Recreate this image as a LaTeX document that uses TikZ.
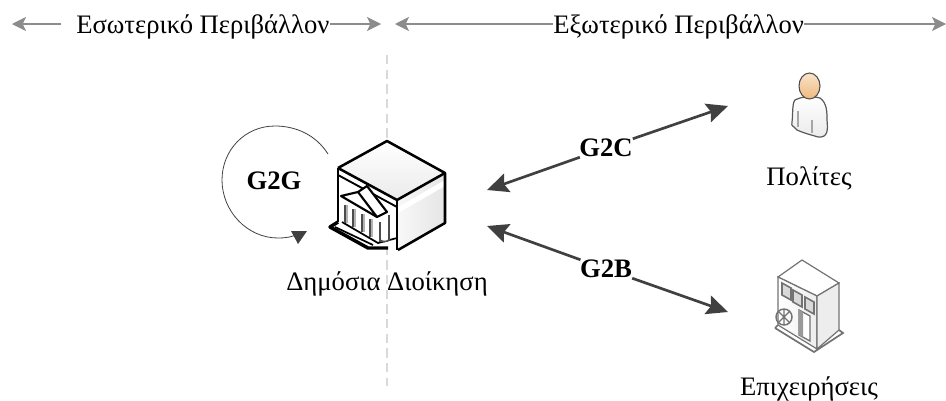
\documentclass[tikz,border=0pt]{standalone}
\usepackage{fontspec}
\setmainfont{Liberation Serif}
\usetikzlibrary{arrows.meta}
\definecolor{greyline}{RGB}{140,140,140}
\definecolor{darkline}{RGB}{64,64,64}
\definecolor{skin}{RGB}{240,185,125}
\tikzset{
  x=0.75pt,y=-0.75pt,
  lbl/.style={font=\fontsize{20}{24}\selectfont,inner sep=0pt,text=black},
  boldlbl/.style={font=\fontsize{20}{24}\selectfont\bfseries,inner sep=0pt,fill=white,text=black},
  spanline/.style={draw=greyline,line width=0.8pt,-{Stealth[length=10.5pt,width=10.5pt,inset=2.5pt,fill=greyline]}},
  linkline/.style={draw=darkline,line width=2pt,-{Stealth[length=16pt,width=14.5pt,inset=2.5pt,fill=darkline]}},
  ink/.style={draw=black,line width=1.9pt,line join=round},
}
\begin{document}
\begin{tikzpicture}
\useasboundingbox (0,0) rectangle (946,400);
% top range
\node[lbl,anchor=base west] (in) at (76,33) {Εσωτερικό Περιβάλλον};
\node[lbl,anchor=base west] (ex) at (553,33) {Εξωτερικό Περιβάλλον};
\coordinate (a0) at (61,24); \coordinate (a1) at (12,24); \coordinate (a2) at (381,24);
\coordinate (b1) at (395,24); \coordinate (b2) at (946,24);
\draw[spanline] (a0) -- (a1);
\draw[spanline] (in.east |- a2) -- (a2);
\draw[spanline] (ex.west |- b1) -- (b1);
\draw[spanline] (ex.east |- b2) -- (b2);
% divider
\coordinate (d1) at (387,55); \coordinate (d2) at (387,386);
\draw[draw=black!15,line width=1.2pt,dash pattern=on 7pt off 4pt] (d1) -- (d2);
% G2G loop
\node[font=\fontsize{20}{24}\selectfont\bfseries,inner sep=0pt] (g2g) at (274,181) {G2G};
\draw[draw=darkline,line width=0.6pt] (328,154) .. controls (316,135) and (296,126) .. (275,126)
  .. controls (245,126) and (222,150) .. (222,180)
  .. controls (222,211) and (247,238) .. (278,238)
  .. controls (286,238) and (292,237) .. (298,234);
\fill[darkline] (291,231) -- (307,231) -- (298,244) -- cycle;
% public administration building
\begin{scope}
\fill[white] (387,140) -- (446,172) -- (446,222) -- (398,250) -- (330,227) -- (338,168) -- cycle;
\shade[left color=black!3,right color=black!10] (398,200) -- (445,174) -- (445,222) -- (398,249) -- cycle;
\fill[white] (398,207) -- (445,180) -- (445,186) -- (398,213) -- cycle;
\shade[top color=white,bottom color=black!8] (338,168) -- (387,141) -- (445,173) -- (398,200) -- cycle;
\draw[ink] (338,168) -- (387,141) -- (445,173) -- (445,223) -- (398,250);
\draw[ink] (338,168) -- (397,200) -- (445,173);
\draw[ink,line width=1.4pt] (338,175) -- (397,207);
\draw[ink] (397,200) -- (397,250);
\draw[ink] (338,168) -- (338,222);
\draw[ink,line width=2.6pt] (338,222) -- (330,227) -- (368,248) -- (388,248);
\draw[ink,line width=1.3pt] (342,222) -- (378,243) -- (397,238);
\draw[ink,line width=1.3pt] (335,227) -- (373,245);
\foreach \x/\y in {345/205,353/209,362/214,370/219,380/224}{
  \fill[black!30] (\x,\y) rectangle (\x+2.5,\y+18);
  \draw[black!70,line width=0.9pt] (\x,\y) -- (\x,\y+18);
}
\draw[black!70,line width=1.2pt,fill=white] (380,222) -- (380,240) .. controls (382,242) and (387,242) .. (389,240) -- (389,215);
\draw[ink,line width=1.6pt,fill=white] (341,196) -- (358,192) -- (367,186) -- (387,212) -- (377,217) -- cycle;
\draw[ink,line width=1.6pt] (358,192) -- (377,217);
\end{scope}
\node[lbl,anchor=base] (da) at (387,290) {Δημόσια Διοίκηση};
% citizen
\begin{scope}
\path[draw=black!65,line width=0.9pt,top color=white,bottom color=black!8] (795,100) .. controls (792,103) and (793,115) .. (792,122)
 .. controls (791,127) and (793,125) .. (797,130) .. controls (806,134) and (812,135) .. (818,137)
 .. controls (828,138) and (828,130) .. (827,120) .. controls (827,112) and (827,103) .. (820,98)
 .. controls (812,96) and (803,96) .. (795,100) -- cycle;
\draw[black!35,line width=1pt] (798,111) -- (798,127) (812,120) -- (812,133);
\draw[draw=black!70,line width=0.8pt,top color=white!60!skin,bottom color=skin] (809.5,86) ellipse (10.5 and 13);
\end{scope}
\node[lbl,anchor=base] (pol) at (809,185) {Πολίτες};
% business
\begin{scope}
\draw[black!55,line width=0.9pt,fill=white] (778,277) -- (802,260) -- (839,283) -- (817,296) -- cycle;
\shade[left color=white,right color=black!7] (778,277) -- (817,296) -- (817,349) -- (778,325) -- cycle;
\draw[black!55,line width=0.9pt] (778,277) -- (778,325) -- (817,349) -- (817,296) -- cycle;
\draw[black!55,line width=0.9pt,fill=black!7] (817,296) -- (839,283) -- (839,330) -- (817,349) -- cycle;
\draw[black!55,line width=1.3pt] (775,328) -- (814,352) -- (843,333) -- (839,330) (775,328) -- (778,325);
\foreach \x/\y in {782/283,793/290,805/297}{
  \draw[black!55,line width=1.2pt,fill=black!15] (\x,\y) -- (\x+9,\y+5) -- (\x+9,\y+17) -- (\x,\y+12) -- cycle;
}
\draw[black!55,line width=1pt,fill=white] (799,310) -- (810,316) -- (810,341) -- (799,335) -- cycle;
\fill[black!40] (799,310) -- (803,312) -- (803,337) -- (799,335) -- cycle;
\draw[black!55,line width=1.1pt] (784,317) circle (8);
\draw[black!55,line width=1pt] (778,311) -- (790,323) (778,323) -- (790,311) (784,309) -- (784,325);
\end{scope}
\node[lbl,anchor=base] (ep) at (809,395) {Επιχειρήσεις};
% links
\coordinate (c1) at (487,190); \coordinate (c2) at (728,106);
\coordinate (e1) at (487,226); \coordinate (e2) at (728,312);
\node[boldlbl] (g2c) at (606,148) {G2C};
\node[boldlbl] (g2b) at (606,269) {G2B};
\draw[linkline] (g2c) -- (c1);
\draw[linkline] (g2c) -- (c2);
\draw[linkline] (g2b) -- (e1);
\draw[linkline] (g2b) -- (e2);
\end{tikzpicture}
\end{document}
